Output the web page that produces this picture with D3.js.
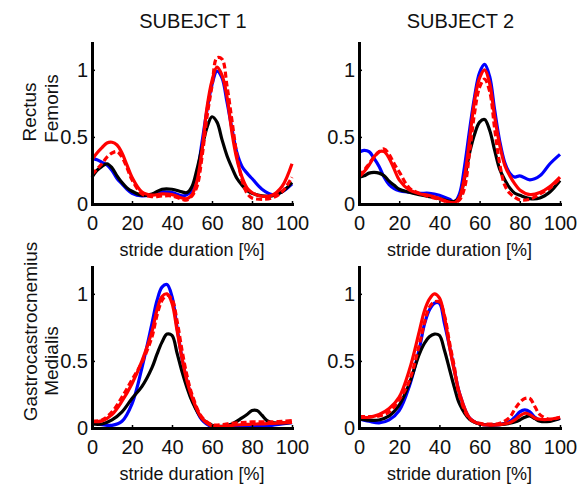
<!DOCTYPE html>
<html><head><meta charset="utf-8">
<script src="https://cdn.jsdelivr.net/npm/d3@7"></script>
<style>
body{margin:0;background:#fff}
svg{display:block}
text{font-family:"Liberation Sans",Arial,sans-serif;fill:#111}
</style>
</head><body>
<svg id="c" width="585" height="485"></svg>
<script>
// ---------- data ----------
const subjects = ["SUBEJCT 1", "SUBJECT 2"];
const muscleLines = [["Rectus", "Femoris"], ["Gastrocastrocnemius", "Medialis"]];
const xLabel = "stride duration [%]";
const xTicks = [0, 20, 40, 60, 80, 100];
const yTicks = [0, 0.5, 1];

const strideRF = [0,2.5,5,7.5,10,12.5,15,17.5,20,25,30,35,40,45,47.5,50,52.5,55,57.5,60,62.5,65,67.5,70,72.5,75,77.5,80,85,90,95,100];
const strideGM = [0,5,10,15,20,25,30,32.5,35,37.5,40,42.5,45,47.5,50,55,60,65,70,75,77.5,80,82.5,85,87.5,90,95,100];

// Subject 1 - Rectus Femoris
const s1RFblue  = [0.34,0.33,0.31,0.29,0.25,0.19,0.15,0.11,0.08,0.06,0.07,0.09,0.085,0.06,0.07,0.10,0.22,0.46,0.70,0.89,0.99,0.94,0.76,0.56,0.38,0.28,0.23,0.19,0.11,0.07,0.09,0.15];
const s1RFred   = [0.33,0.38,0.42,0.455,0.46,0.44,0.38,0.29,0.20,0.09,0.067,0.075,0.07,0.045,0.04,0.07,0.17,0.40,0.72,0.92,1.02,0.96,0.80,0.53,0.33,0.20,0.12,0.085,0.058,0.065,0.13,0.30];
const s1RFdash  = [0.22,0.26,0.30,0.35,0.38,0.39,0.35,0.27,0.18,0.075,0.055,0.06,0.06,0.035,0.03,0.06,0.13,0.35,0.65,0.88,1.09,1.08,0.88,0.62,0.36,0.18,0.08,0.045,0.035,0.045,0.09,0.20];
const s1RFblack = [0.20,0.25,0.28,0.30,0.27,0.21,0.16,0.12,0.095,0.065,0.075,0.11,0.11,0.09,0.085,0.13,0.26,0.42,0.57,0.65,0.61,0.48,0.36,0.27,0.19,0.14,0.10,0.08,0.06,0.06,0.09,0.16];

// Subject 2 - Rectus Femoris
const s2RFblue  = [0.385,0.40,0.39,0.34,0.28,0.20,0.145,0.115,0.10,0.088,0.08,0.08,0.065,0.035,0.015,0.075,0.28,0.55,0.80,0.98,1.04,0.95,0.70,0.47,0.31,0.23,0.20,0.21,0.18,0.21,0.30,0.37];
const s2RFred   = [0.20,0.24,0.29,0.35,0.39,0.39,0.34,0.26,0.18,0.105,0.077,0.063,0.04,0.013,0.008,0.05,0.20,0.48,0.77,0.94,1.0,0.90,0.65,0.44,0.29,0.21,0.15,0.105,0.07,0.085,0.13,0.20];
const s2RFdash  = [0.21,0.25,0.30,0.35,0.39,0.41,0.37,0.30,0.24,0.12,0.08,0.055,0.035,0.012,0.01,0.03,0.12,0.38,0.68,0.87,0.93,0.84,0.56,0.30,0.14,0.08,0.05,0.03,0.035,0.075,0.12,0.19];
const s2RFblack = [0.20,0.21,0.23,0.235,0.23,0.21,0.17,0.14,0.11,0.088,0.07,0.055,0.04,0.02,0.02,0.05,0.19,0.38,0.52,0.61,0.63,0.55,0.40,0.26,0.18,0.12,0.08,0.065,0.04,0.045,0.09,0.175];

// Subject 1 - Gastrocnemius Medialis
const s1GMblue  = [0.04,0.025,0.02,0.05,0.18,0.45,0.78,0.95,1.05,1.07,0.98,0.75,0.52,0.35,0.22,0.06,0.01,0.005,0.005,0.008,0.01,0.012,0.015,0.015,0.017,0.02,0.03,0.04];
const s1GMred   = [0.047,0.053,0.10,0.20,0.33,0.50,0.72,0.88,0.98,1.0,0.93,0.73,0.52,0.35,0.23,0.07,0.015,0.01,0.02,0.025,0.027,0.028,0.03,0.03,0.032,0.035,0.038,0.042];
const s1GMdash  = [0.05,0.06,0.12,0.23,0.36,0.49,0.68,0.84,0.95,0.99,0.96,0.80,0.58,0.39,0.25,0.08,0.025,0.025,0.035,0.04,0.042,0.045,0.045,0.045,0.045,0.045,0.05,0.055];
const s1GMblack = [0.03,0.03,0.06,0.12,0.22,0.31,0.45,0.55,0.64,0.70,0.69,0.56,0.42,0.30,0.20,0.07,0.02,0.012,0.03,0.075,0.10,0.13,0.13,0.095,0.055,0.04,0.038,0.042];

// Subject 2 - Gastrocnemius Medialis
const s2GMblue  = [0.067,0.05,0.038,0.06,0.13,0.31,0.59,0.77,0.88,0.93,0.93,0.78,0.61,0.43,0.26,0.075,0.03,0.022,0.025,0.05,0.08,0.12,0.135,0.12,0.08,0.058,0.058,0.072];
const s2GMred   = [0.08,0.08,0.10,0.145,0.23,0.43,0.72,0.87,0.96,1.0,0.97,0.83,0.61,0.42,0.26,0.075,0.03,0.022,0.025,0.04,0.06,0.09,0.11,0.10,0.075,0.065,0.065,0.08];
const s2GMdash  = [0.085,0.085,0.09,0.12,0.21,0.35,0.62,0.78,0.90,0.94,0.94,0.84,0.64,0.45,0.24,0.07,0.035,0.03,0.035,0.08,0.14,0.19,0.22,0.22,0.16,0.10,0.065,0.08];
const s2GMblack = [0.07,0.058,0.06,0.09,0.17,0.33,0.55,0.63,0.68,0.70,0.69,0.58,0.44,0.30,0.18,0.065,0.03,0.022,0.025,0.035,0.045,0.06,0.08,0.09,0.07,0.05,0.05,0.072];

// ---------- layout / style ----------
const colX = [[92, 292], [359, 560]];
const rowY = [[204, 43], [428, 267]];
const seriesStyle = [
  {stroke: "#0000ff", dash: null},   // blue
  {stroke: "#000000", dash: null},   // black
  {stroke: "#ff0000", dash: null},   // red
  {stroke: "#ff0000", dash: "6,3"}   // red dashed
];
const panels = [
  {row: 0, col: 0, xs: strideRF, series: [s1RFblue, s1RFblack, s1RFred, s1RFdash]},
  {row: 0, col: 1, xs: strideRF, series: [s2RFblue, s2RFblack, s2RFred, s2RFdash]},
  {row: 1, col: 0, xs: strideGM, series: [s1GMblue, s1GMblack, s1GMred, s1GMdash]},
  {row: 1, col: 1, xs: strideGM, series: [s2GMblue, s2GMblack, s2GMred, s2GMdash]}
];

const svg = d3.select("#c");

panels.forEach(p => {
  const x = d3.scaleLinear().domain([0, 100]).range(colX[p.col]);
  const y = d3.scaleLinear().domain([0, 1.2]).range(rowY[p.row]);
  const g = svg.append("g");

  const line = d3.line()
    .x((d, i) => x(p.xs[i]))
    .y(d => y(d))
    .curve(d3.curveCatmullRom.alpha(0.5));

  p.series.forEach((s, i) => {
    const st = seriesStyle[i];
    g.append("path")
      .datum(s)
      .attr("d", line)
      .attr("fill", "none")
      .attr("stroke", st.stroke)
      .attr("stroke-width", 3.2)
      .attr("stroke-linejoin", "round")
      .attr("stroke-dasharray", st.dash);
  });

  const xa = g.append("g")
    .attr("transform", `translate(0,${rowY[p.row][0]})`)
    .call(d3.axisBottom(x).tickValues(xTicks).tickSizeInner(-3).tickSizeOuter(0).tickPadding(12).tickFormat(d3.format("d")));
  const ya = g.append("g")
    .attr("transform", `translate(${colX[p.col][0]},0)`)
    .call(d3.axisLeft(y).tickValues(yTicks).tickSizeInner(-3).tickSizeOuter(0).tickPadding(4).tickFormat(d => String(d)));

  [xa, ya].forEach(a => {
    a.attr("font-size", null).attr("font-family", null);
    a.select(".domain").attr("stroke", "#000").attr("stroke-width", 3).attr("stroke-linecap", "square");
    a.selectAll(".tick line").attr("stroke", "#000").attr("stroke-width", 1.5);
    a.selectAll(".tick text").style("font-size", "20px").attr("fill", "#111");
  });

  // x label
  g.append("text")
    .attr("x", (colX[p.col][0] + colX[p.col][1]) / 2)
    .attr("y", rowY[p.row][0] + 52)
    .attr("text-anchor", "middle")
    .style("font-size", "18px")
    .text(xLabel);
});

// titles
subjects.forEach((t, c) => {
  svg.append("text")
    .attr("x", (colX[c][0] + colX[c][1]) / 2 + 1)
    .attr("y", 28)
    .attr("text-anchor", "middle")
    .style("font-size", "20px")
    .text(t);
});

// y labels (two lines each)
const ylabPos = [
  [[36, 112], [57.5, 108.5]],
  [[37, 331.5], [58, 361]]
];
muscleLines.forEach((lines, r) => {
  lines.forEach((t, k) => {
    const [px, py] = ylabPos[r][k];
    svg.append("text")
      .attr("transform", `translate(${px},${py}) rotate(-90)`)
      .attr("text-anchor", "middle")
      .style("font-size", "19px")
      .text(t);
  });
});
</script>
</body></html>
